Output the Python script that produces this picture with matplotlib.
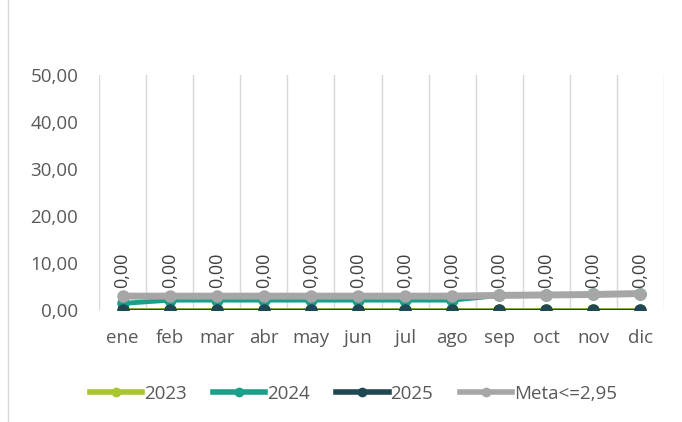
import matplotlib
matplotlib.use("Agg")
import matplotlib.pyplot as plt
from matplotlib.lines import Line2D

months = ["ene", "feb", "mar", "abr", "may", "jun", "jul", "ago", "sep", "oct", "nov", "dic"]
s2023 = [0, 0, 0, 0, 0, 0, 0, 0, 0, 0, 0, 0]
s2024 = [1.4, 2.1, 2.1, 2.1, 2.1, 2.1, 2.1, 2.1, 3.1, 3.2, 3.3, 3.5]
s2025 = [0, 0, 0, 0, 0, 0, 0, 0, 0, 0, 0, 0]
meta = [2.95, 2.95, 2.95, 2.95, 2.95, 2.95, 2.95, 2.95, 3.1, 3.2, 3.3, 3.5]
yticks = [0, 10, 20, 30, 40, 50]
labels_2025 = ["0,00"] * 12

plt.rcParams['font.family'] = ['Open Sans', 'DejaVu Sans']

fig = plt.figure(figsize=(6.82, 4.22), dpi=100)
ax = fig.add_axes([99/682, 1-310/422, 565/682, 235/422])

x = list(range(len(months)))
c2023 = "#A9C52F"
c2024 = "#1AA08A"
c2025 = "#1F4853"
cmeta = "#A6A6A6"

ax.plot(x, s2023, color=c2023, lw=3.5, marker='o', ms=8, label="2023", zorder=3)
ax.plot(x, s2024, color=c2024, lw=3.5, marker='o', ms=8, label="2024", zorder=4)
ax.plot(x, s2025, color=c2025, lw=2.5, marker='o', ms=8, label="2025", zorder=5)
ax.plot(x, meta, color=cmeta, lw=5, marker='o', ms=8, label="Meta<=2,95", zorder=4.5)

for xi, v, t in zip(x, s2025, labels_2025):
    ax.annotate(t, (xi, v), xytext=(0, 16), textcoords='offset points',
                rotation=90, ha='center', va='bottom', fontsize=13, color='#404040')

ax.set_xlim(-0.5, len(months) - 0.5)
ax.set_ylim(0, 50)
ax.set_yticks(yticks)
ax.set_yticklabels([f"{v:.2f}".replace('.', ',') for v in yticks], fontsize=13.5, color='#595959')
ax.set_xticks(x)
ax.set_xticklabels(months, fontsize=13.5, color='#595959')
ax.set_xticks([i - 0.5 for i in range(len(months) + 1)], minor=True)
ax.grid(True, which='minor', axis='x', color='#D9D9D9', lw=1)
ax.grid(False, which='major')
ax.tick_params(axis='both', which='both', length=0)
ax.tick_params(axis='x', pad=14)
ax.tick_params(axis='y', pad=15)
for s in ax.spines.values():
    s.set_visible(False)

handles = [Line2D([0], [0], color=c, lw=4, marker='o', ms=6) for c in [c2023, c2024, c2025, cmeta]]
fig.legend(handles, ["2023", "2024", "2025", "Meta<=2,95"], loc='center', ncol=4,
           bbox_to_anchor=(0.518, 1-394/422), frameon=False, fontsize=13.5,
           handlelength=2.8, handletextpad=0.1, columnspacing=1.4, labelcolor='#595959')

fig.add_artist(Line2D([8/682, 8/682], [0, 1], color='#D9D9D9', lw=1, transform=fig.transFigure))

fig.savefig("out.png", dpi=100, facecolor='white')
